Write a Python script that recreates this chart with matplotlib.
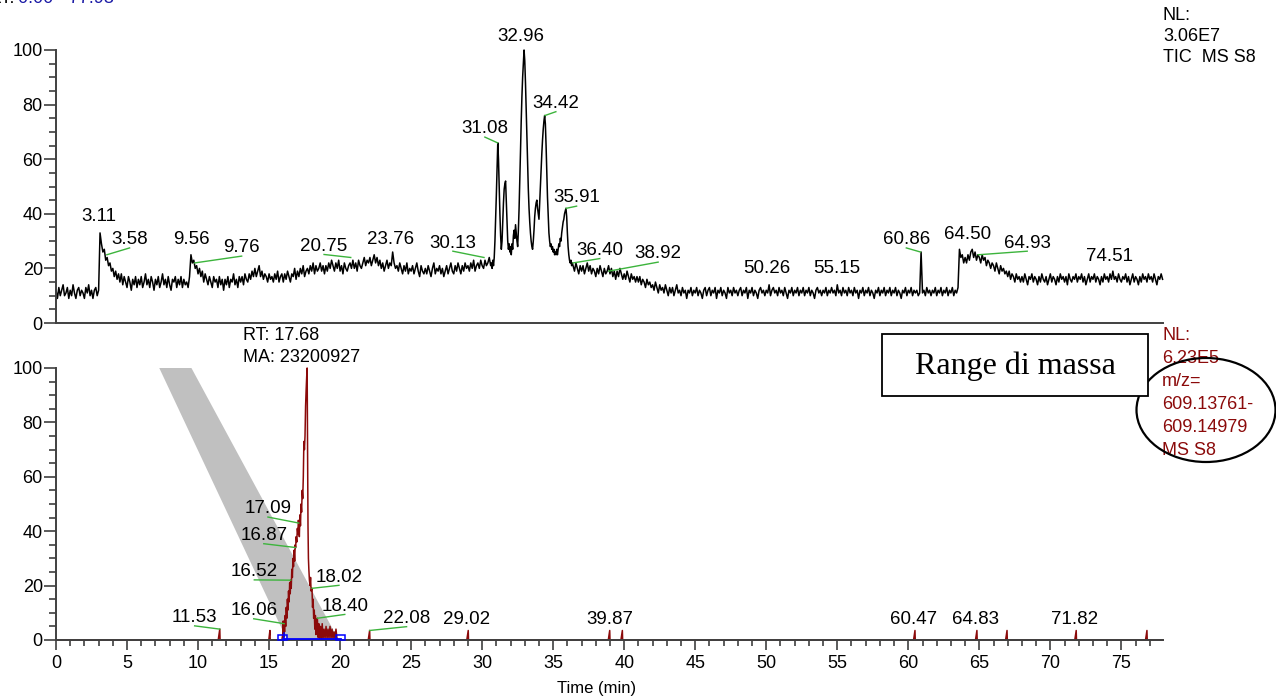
import numpy as np
import matplotlib.pyplot as plt
from matplotlib.patches import Ellipse, Rectangle, Polygon
from matplotlib.ticker import MultipleLocator

plt.rcParams['font.family'] = ['Liberation Sans', 'DejaVu Sans']

rt_max = 77.93

# TIC trace (relative abundance), three runs of evenly spaced samples
tic_a_start, tic_a_step = 0.0, 0.1
tic_a = [12, 9, 13, 10, 12, 14, 10, 11, 13, 9,
         12, 10, 14, 11, 9, 12, 13, 10, 12, 11,
         9, 13, 11, 14, 10, 12, 9, 12, 13, 10,
         12, 33, 29, 26, 27, 23, 24, 21, 22, 19,
         20, 17, 19, 16, 18, 15, 18, 14, 17, 15,
         13, 17, 15, 12, 16, 14, 17, 13, 16, 14,
         17, 13, 15, 18, 14, 16, 13, 17, 15, 12,
         16, 14, 17, 13, 15, 18, 14, 16, 13, 17,
         14, 12, 16, 15, 17, 13, 16, 14, 17, 13,
         16, 14, 15, 13, 17, 25, 22, 23, 20, 21,
         18, 20, 17, 19, 15, 18, 16, 14, 17, 15,
         13, 17, 15, 16, 13, 17, 14, 16, 12, 16,
         14, 17, 13, 16, 15, 18, 14, 16, 13, 17,
         15, 17, 14, 18, 16, 15, 18, 16, 19, 17,
         20, 17, 19, 21, 17, 19, 16, 18, 17, 15,
         18, 16, 17, 15, 18, 16, 19, 15, 17, 18,
         15, 18, 16, 19, 17, 15, 18, 17, 20, 16,
         19, 17, 20, 18, 21, 17, 19, 20, 18, 21,
         19, 22, 18, 21, 19, 20, 22, 19, 21, 18,
         21, 19, 22, 20, 23, 21, 19, 22, 20, 23,
         19, 21, 18, 22, 20, 19, 21, 22, 20, 23,
         20, 22, 19, 23, 21, 20, 22, 24, 21, 23,
         22, 24, 21, 23, 25, 22, 24, 21, 23, 20,
         22, 19, 21, 23, 20, 22, 21, 26, 22, 20,
         21, 19, 22, 20, 18, 21, 19, 22, 18, 20,
         19, 21, 18, 20, 22, 19, 17, 21, 19, 18,
         20, 18, 21, 19, 17, 20, 22, 18, 20, 19,
         21, 18, 20, 17, 19, 21, 18, 20, 22, 19,
         18, 21, 19, 22, 20, 18, 21, 19, 22, 20,
         21, 19, 22, 20, 23, 19, 21, 22, 20, 23,
         21, 20, 23, 21, 22, 24]

tic_b_start, tic_b_step = 30.6, 0.05
tic_b = [21, 22, 20, 23, 21, 24, 30, 38, 47, 56,
         66, 60, 50, 40, 32, 27, 30, 37, 44, 49,
         51, 52, 45, 37, 30, 27, 29, 26, 28, 25,
         29, 27, 32, 34, 31, 36, 33, 30, 28, 34,
         42, 52, 63, 74, 83, 90, 95, 100, 96, 88,
         78, 68, 58, 49, 42, 37, 33, 30, 28, 27,
         30, 34, 39, 42, 44, 45, 42, 40, 38, 44,
         50, 56, 62, 67, 71, 74, 76, 73, 65, 55,
         46, 39, 33, 30, 28, 29, 27, 28, 26, 27,
         25, 26, 25, 27, 25, 27, 29, 28, 31, 30,
         33, 35, 37, 38, 40, 41, 42, 39, 33, 28,
         25, 23, 22, 23, 21, 22]

tic_c_start, tic_c_step = 36.4, 0.1
tic_c = [21, 19, 22, 20, 18, 21,
         19, 21, 18, 20, 22, 19, 21, 18, 20, 19,
         17, 20, 18, 21, 19, 17, 20, 18, 19, 21,
         18, 20, 17, 19, 16, 19, 17, 20, 18, 16,
         18, 16, 19, 17, 15, 18, 16, 17, 15, 17,
         15, 17, 14, 16, 15, 13, 16, 14, 15, 13,
         14, 12, 15, 13, 11, 14, 12, 13, 11, 14,
         12, 10, 13, 11, 13, 10, 12, 14, 11, 12,
         10, 13, 11, 12, 9, 12, 11, 13, 10, 12,
         11, 13, 10, 12, 11, 9, 12, 13, 10, 12,
         13, 10, 12, 11, 13, 9, 12, 11, 13, 10,
         12, 11, 9, 13, 11, 12, 10, 13, 11, 12,
         10, 12, 13, 10, 12, 11, 13, 9, 12, 11,
         13, 10, 12, 11, 9, 12, 13, 11, 12, 10,
         12, 11, 14, 10, 12, 13, 11, 12, 10, 13,
         11, 12, 10, 13, 11, 9, 12, 11, 13, 10,
         12, 11, 13, 10, 12, 11, 13, 10, 12, 11,
         13, 10, 12, 11, 9, 12, 13, 11, 12, 10,
         12, 11, 13, 10, 12, 11, 13, 11, 12, 10,
         14, 11, 12, 10, 13, 11, 12, 10, 13, 11,
         12, 10, 13, 11, 12, 9, 12, 11, 13, 10,
         12, 11, 13, 10, 12, 11, 9, 12, 11, 13,
         10, 12, 11, 13, 10, 12, 11, 13, 10, 12,
         11, 13, 10, 12, 11, 9, 12, 11, 13, 10,
         12, 11, 13, 10, 12, 11, 12, 10, 11, 26,
         11, 12, 10, 13, 11, 12, 10, 12, 11, 13,
         10, 12, 11, 13, 10, 12, 11, 13, 10, 12,
         11, 13, 10, 12, 11, 13, 27, 24, 25, 22,
         24, 22, 25, 23, 26, 27, 24, 26, 23, 25,
         24, 22, 25, 23, 24, 21, 23, 22, 20, 22,
         21, 19, 22, 20, 18, 21, 19, 20, 18, 19,
         17, 19, 16, 18, 17, 15, 18, 16, 17, 15,
         17, 15, 18, 16, 14, 17, 16, 18, 15, 17,
         16, 14, 17, 15, 18, 16, 15, 17, 14, 16,
         18, 15, 17, 16, 14, 17, 15, 18, 16, 17,
         15, 17, 14, 18, 16, 15, 17, 16, 18, 15,
         17, 16, 18, 15, 17, 14, 16, 18, 15, 17,
         16, 18, 15, 17, 16, 14, 17, 15, 18, 16,
         17, 15, 18, 16, 19, 16, 17, 15, 18, 16,
         15, 17, 16, 18, 15, 17, 14, 16, 18, 15,
         17, 16, 14, 17, 15, 18, 16, 17, 15, 18,
         16, 17, 15, 18, 16, 14, 17, 16, 18, 16]

# TIC peak labels: retention time, apex height, label centre (x, y), leader line
tic_lab_rt = [3.11, 3.58, 9.56, 9.76, 20.75, 23.76, 30.13, 31.08, 32.96, 34.42,
              35.91, 36.40, 38.92, 50.26, 55.15, 60.86, 64.50, 64.93, 74.51]
tic_lab_val = [33, 25, 25, 22, 24, 25, 24, 66, 100, 76,
               42, 22, 19, 13, 13, 26, 27, 25, 18]
tic_lab_x = [3.0, 5.18, 9.5, 13.07, 18.87, 23.54, 27.94, 30.19, 32.72, 35.19,
             36.65, 38.28, 42.39, 50.01, 54.93, 59.86, 64.2, 68.37, 74.17]
tic_lab_y = [38.9, 30.5, 30.5, 27.5, 28.1, 30.5, 29.3, 71.1, 104.8, 80.4,
             45.8, 26.6, 25.3, 19.8, 19.8, 30.5, 32.4, 29.3, 24.2]
tic_leader = [False, True, False, True, True, False, True, True, False, True,
              True, True, True, False, False, True, False, True, False]

# extracted ion trace m/z 609.13761-609.14979
xic_t = [0.0, 11.42, 11.53, 11.55,
         14.98, 15.06, 15.08,
         15.90, 15.96, 16.00, 16.03, 16.06, 16.09, 16.13, 16.17, 16.21, 16.25,
         16.29, 16.33, 16.37, 16.41, 16.45, 16.49, 16.52, 16.56, 16.60, 16.64,
         16.68, 16.72, 16.76, 16.80, 16.84, 16.87, 16.91, 16.95, 16.99, 17.03,
         17.06, 17.09, 17.13, 17.17, 17.21, 17.25, 17.29, 17.33, 17.37, 17.41,
         17.45, 17.49, 17.53, 17.57, 17.61, 17.65, 17.68, 17.71, 17.74, 17.77,
         17.80, 17.84, 17.88, 17.92, 17.96, 18.02, 18.06, 18.10, 18.14, 18.18,
         18.22, 18.26, 18.30, 18.34, 18.40, 18.45, 18.50, 18.56, 18.62, 18.68,
         18.74, 18.80, 18.87, 18.94, 19.01, 19.08, 19.15, 19.22, 19.29, 19.36,
         19.43, 19.50, 19.57, 19.64, 19.71, 19.78, 19.85,
         21.98, 22.08, 22.10,
         28.92, 29.02, 29.04,
         38.88, 38.98, 39.00,
         39.77, 39.87, 39.89,
         60.37, 60.47, 60.49,
         64.73, 64.83, 64.85,
         66.85, 66.95, 66.97,
         71.72, 71.82, 71.84,
         76.70, 76.80, 76.82, 77.93]
xic_v = [0, 0, 4, 0,
         0, 3.5, 0,
         0, 2, 7, 1, 6, 3, 9, 5, 12, 8,
         15, 11, 18, 14, 21, 17, 22, 19, 26, 23,
         30, 27, 33, 29, 35, 34, 38, 36, 41, 39,
         44, 43, 38, 46, 42, 50, 47, 55, 52, 60,
         73, 70, 75, 86, 92, 97, 100, 70, 42, 30,
         26, 22, 20, 23, 18, 19, 12, 15, 8, 11,
         4, 9, 2, 7, 8, 1, 6, 0.5, 5, 0.5,
         6, 0.5, 4, 0.5, 5, 0.5, 4, 0.5, 5, 0.5,
         4, 0.5, 3, 0.5, 4, 0.5, 0,
         0, 3.5, 0,
         0, 3.5, 0,
         0, 3.5, 0,
         0, 3.5, 0,
         0, 3.5, 0,
         0, 3.5, 0,
         0, 3.5, 0,
         0, 3.5, 0,
         0, 3.5, 0, 0]

xic_lab_rt = [11.53, 16.06, 16.52, 16.87, 17.09, 18.02, 18.40, 22.08,
              29.02, 39.87, 60.47, 64.83, 71.82]
xic_lab_val = [4, 6, 22, 34, 43, 19, 8, 3.5, 3.5, 3.5, 3.5, 3.5, 3.5]
xic_lab_x = [9.76, 13.92, 13.96, 14.63, 14.92, 19.92, 20.33, 24.68,
             28.9, 39.0, 60.4, 64.7, 71.7]
xic_lab_y = [8.2, 10.8, 25.1, 38.4, 48.2, 23.1, 12.4, 7.9,
             7.5, 7.5, 7.5, 7.5, 7.5]
xic_leader = [True] * 8 + [False] * 5

apex_rt, apex_area = 17.68, 23200927
integ_start, integ_end = 15.95, 20.05

# highlight band across the extracted ion panel
band_x = [7.18, 9.43, 19.9, 16.27]
band_y = [101, 101, 0, 0]

W, H = 1276, 697
axis_col = '#404040'
xic_col = '#8b0a0a'
lead_col = '#3cb43c'


def fx(px):
    return px / W


def fy(py):
    return 1 - py / H


def style(ax):
    ax.set_xlim(0, rt_max)
    ax.set_ylim(0, 100)
    ax.spines['top'].set_visible(False)
    ax.spines['right'].set_visible(False)
    for s in ('left', 'bottom'):
        ax.spines[s].set_color(axis_col)
        ax.spines[s].set_linewidth(1.4)
    ax.yaxis.set_major_locator(MultipleLocator(20))
    ax.yaxis.set_minor_locator(MultipleLocator(5))
    ax.tick_params(axis='y', which='major', length=8.5, width=1.2,
                   color=axis_col, labelsize=13, pad=1)
    ax.tick_params(axis='y', which='minor', length=5, width=1.2, color=axis_col)


def peak_labels(ax, rts, vals, xs, ys, leads):
    for rt, v, x, y, lead in zip(rts, vals, xs, ys, leads):
        if lead:
            ax.plot([x, rt], [y - 3.0, v], color=lead_col, lw=1.0,
                    clip_on=False, zorder=3)
        ax.text(x, y, f'{rt:.2f}', ha='center', va='center', fontsize=13.5,
                zorder=4)


fig = plt.figure(figsize=(W / 100, H / 100), dpi=100)
ax1 = fig.add_axes([fx(56), fy(323), fx(1163) - fx(56), fy(50) - fy(323)])
ax2 = fig.add_axes([fx(56), fy(640), fx(1163) - fx(56), fy(368) - fy(640)])

# TIC panel
tic_t = np.concatenate([tic_a_start + tic_a_step * np.arange(len(tic_a)),
                        tic_b_start + tic_b_step * np.arange(len(tic_b)),
                        tic_c_start + tic_c_step * np.arange(len(tic_c))])
tic_v = np.concatenate([tic_a, tic_b, tic_c])
ax1.plot(tic_t, tic_v, color='black', lw=1.1, clip_on=False)
style(ax1)
ax1.tick_params(axis='x', which='both', bottom=False, labelbottom=False)
peak_labels(ax1, tic_lab_rt, tic_lab_val, tic_lab_x, tic_lab_y, tic_leader)

# XIC panel
ax2.add_patch(Polygon(list(zip(band_x, band_y)), closed=True,
                      fc='#c0c0c0', ec='none', zorder=1))
ax2.plot(xic_t, xic_v, color=xic_col, lw=1.1, clip_on=False, zorder=2)
style(ax2)
ax2.xaxis.set_major_locator(MultipleLocator(5))
ax2.xaxis.set_minor_locator(MultipleLocator(1))
ax2.tick_params(axis='x', which='major', length=7, width=1.2,
                color=axis_col, labelsize=13, pad=4)
ax2.tick_params(axis='x', which='minor', length=4.5, width=1.2, color=axis_col)
peak_labels(ax2, xic_lab_rt, xic_lab_val, xic_lab_x, xic_lab_y, xic_leader)

# integration baseline markers
ax2.plot([integ_start, integ_end], [0.3, 0.3], color='blue', lw=1.3,
         clip_on=False, zorder=3)
for x0 in (integ_start - 0.33, integ_end - 0.33):
    ax2.add_patch(Rectangle((x0, 0), 0.66, 1.8, fill=False, ec='blue',
                            lw=1.1, clip_on=False, zorder=3))
ax2.plot([16.06, 16.06], [0, 2.6], color='blue', lw=1.1, clip_on=False,
         zorder=3)

ax2.text(13.14, 110.2, f'RT: {apex_rt:.2f}', ha='left', va='baseline',
         fontsize=13)
ax2.text(13.14, 102.1, f'MA: {apex_area}', ha='left', va='baseline',
         fontsize=13)

fig.text(fx(597), fy(688), 'Time (min)', ha='center', va='center',
         fontsize=12)

# header and normalisation labels
fig.text(fx(15), fy(3), 'RT:', ha='right', va='baseline', fontsize=13)
fig.text(fx(18), fy(3), '0.00 - 77.93', ha='left', va='baseline',
         fontsize=13, color='#1a1aa6')

for line, base in zip(['NL:', '3.06E7', 'TIC  MS S8'], [19.7, 40.7, 61.7]):
    fig.text(fx(1163), fy(base), line, ha='left', va='baseline', fontsize=13)

xic_info = ['NL:', '6.23E5', 'm/z=', '609.13761-', '609.14979', 'MS S8']
for i, line in enumerate(xic_info):
    fig.text(fx(1162), fy(339.7 + 23.1 * i), line, ha='left', va='baseline',
             fontsize=13, color=xic_col, zorder=3)

fig.add_artist(Ellipse((fx(1206), fy(410)), fx(139), 104 / H,
                       transform=fig.transFigure, fill=False, ec='black',
                       lw=1.6, zorder=5))
fig.add_artist(Rectangle((fx(882), fy(396)), fx(266), 62 / H,
                         transform=fig.transFigure, fc='white', ec='black',
                         lw=1.3, zorder=6))
fig.text(fx(1015), fy(366), 'Range di massa', ha='center', va='center',
         fontsize=23, family='Liberation Serif', zorder=7)

fig.savefig('out.png', dpi=100)
